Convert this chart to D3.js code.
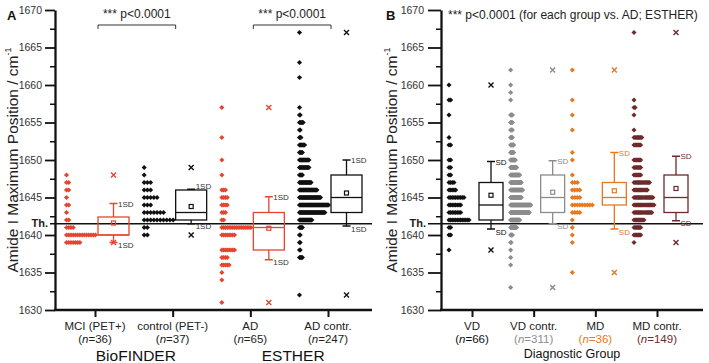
<!DOCTYPE html>
<html><head><meta charset="utf-8">
<script src="https://cdn.jsdelivr.net/npm/d3@7"></script>
<style>body{margin:0;background:#fff}svg{display:block}</style>
</head><body><svg id="c" width="709" height="363"></svg>
<script>
// ---------- data ----------
const catsA = ["MCI (PET+)", "control (PET-)", "AD", "AD contr."];
const nA = [36, 37, 65, 247];
const catsB = ["VD", "VD contr.", "MD", "MD contr."];
const nB = [66, 311, 36, 149];
const yTicks = [1630, 1635, 1640, 1645, 1650, 1655, 1660, 1665, 1670];
const yMinor = [1632.5, 1637.5, 1642.5, 1647.5, 1652.5, 1657.5, 1662.5, 1667.5];
const threshold = 1641.5;

// values (cm^-1) and number of subjects at each value
const mciVals  = [1648, 1647, 1646, 1645, 1644, 1643, 1642, 1641, 1640, 1639];
const mciCnts  = [1, 2, 2, 1, 2, 1, 2, 4, 14, 7];
const ctrlVals = [1649, 1648, 1647, 1646, 1645, 1644, 1643, 1642, 1641, 1640];
const ctrlCnts = [1, 1, 3, 3, 5, 3, 7, 10, 2, 2];
const adVals   = [1657, 1653, 1650, 1648, 1646, 1645, 1644, 1643, 1642, 1641, 1640, 1638, 1637, 1636, 1635, 1634, 1631];
const adCnts   = [1, 1, 1, 1, 3, 4, 4, 3, 2, 17, 8, 8, 4, 5, 1, 1, 1];
const adcVals  = [1667, 1663, 1661, 1657, 1656, 1655, 1654, 1653, 1652, 1651, 1650, 1649, 1648, 1647, 1646, 1645, 1644, 1643, 1642, 1641, 1640, 1639, 1638, 1637, 1632];
const adcCnts  = [1, 1, 1, 1, 2, 6, 2, 3, 8, 5, 14, 14, 5, 17, 25, 30, 41, 36, 18, 5, 2, 2, 2, 5, 1];

const vdVals   = [1660, 1658, 1656, 1653, 1652, 1650, 1649, 1648, 1647, 1646, 1645, 1644, 1643, 1642, 1641, 1640, 1638];
const vdCnts   = [1, 2, 1, 1, 2, 2, 2, 2, 4, 5, 10, 8, 8, 13, 2, 2, 1];
const vdcVals  = [1662, 1660, 1659, 1658, 1656, 1655, 1654, 1653, 1652, 1651, 1650, 1649, 1648, 1647, 1646, 1645, 1644, 1643, 1642, 1641, 1640, 1639, 1638, 1637, 1636, 1633];
const vdcCnts  = [1, 1, 1, 1, 5, 5, 5, 5, 8, 8, 12, 15, 22, 26, 29, 26, 48, 45, 22, 15, 5, 2, 1, 1, 1, 1];
const mdVals   = [1662, 1658, 1656, 1654, 1651, 1650, 1648, 1647, 1646, 1645, 1644, 1643, 1642, 1641, 1640, 1639, 1635];
const mdCnts   = [1, 1, 1, 1, 1, 1, 1, 3, 4, 4, 9, 4, 1, 1, 1, 1, 1];
const mdcVals  = [1667, 1658, 1657, 1656, 1654, 1653, 1652, 1650, 1649, 1648, 1647, 1646, 1645, 1644, 1643, 1642, 1641, 1640, 1639];
const mdcCnts  = [1, 1, 2, 1, 1, 8, 7, 7, 7, 7, 15, 13, 18, 19, 17, 10, 7, 7, 1];

// box statistics
const q1A   = [1640, 1642, 1638, 1643];
const medA  = [1640, 1643, 1641, 1645];
const q3A   = [1642.4, 1646, 1643, 1648];
const meanA = [1641.6, 1643.8, 1640.9, 1645.6];
const sdA   = [2.6, 2.3, 4.2, 4.4];
const q1B   = [1642, 1643, 1644, 1643];
const medB  = [1644, 1645, 1645, 1645];
const q3B   = [1647, 1648, 1647, 1648];
const meanB = [1645.3, 1645.7, 1645.9, 1646.2];
const sdB   = [4.5, 4.2, 5.1, 4.3];

const colorsA = ["#e5452d", "#111111", "#e5452d", "#111111"];
const colorsB = ["#111111", "#8c8c8c", "#e8771e", "#6e2a2c"];
const nColorsB = ["#111111", "#8c8c8c", "#e8771e", "#6e2a2c"];

// ---------- drawing ----------
const FONT = "Arial, 'Liberation Sans', Helvetica, sans-serif";
const svg = d3.select("#c").attr("font-family", FONT);
const y = d3.scaleLinear().domain([1630, 1670]).range([310, 10]);
const diamond = d3.symbol(d3.symbolSquare, 13)();
const timesPath = d3.symbol(d3.symbolTimes || d3.symbolCross, 18)();
const timesRot = d3.symbolTimes ? "" : " rotate(45)";

function drawPanel(o) {
  const g = svg.append("g");
  const x = d3.scalePoint().domain(o.cats).range(o.xRange);

  // dot strips
  o.vals.forEach((vals, i) => {
    const cnts = o.cnts[i];
    const left = x(o.cats[i]) + o.dotOff;
    const step = o.span / (d3.max(cnts) - 1);
    const pts = vals.flatMap((v, j) => d3.range(cnts[j]).map(k => [left + k * step, y(v)]));
    g.append("g").selectAll("path").data(pts).join("path")
      .attr("d", diamond)
      .attr("transform", d => `translate(${d[0]},${d[1]}) rotate(45)`)
      .attr("fill", o.colors[i]);
  });

  // threshold line
  g.append("line").attr("x1", o.thX0).attr("x2", o.xEnd)
    .attr("y1", y(threshold)).attr("y2", y(threshold))
    .attr("stroke", "#111").attr("stroke-width", 1.3);
  g.append("text").attr("x", o.thX0 - 2).attr("y", y(threshold) + 3.5)
    .attr("text-anchor", "end").attr("font-size", 11).attr("font-weight", "bold")
    .attr("fill", "#222").text("Th.");

  // boxes
  o.cats.forEach((c, i) => {
    const cx = x(c) + o.boxOff, hw = o.boxW / 2, col = o.colors[i];
    const hi = o.mean[i] + o.sd[i], lo = o.mean[i] - o.sd[i];
    const bg = g.append("g").attr("stroke", col).attr("fill", "none").attr("stroke-width", 1.3);
    bg.append("line").attr("x1", cx).attr("x2", cx).attr("y1", y(o.q3[i])).attr("y2", y(hi));
    bg.append("line").attr("x1", cx).attr("x2", cx).attr("y1", y(o.q1[i])).attr("y2", y(lo));
    bg.append("line").attr("x1", cx - 4).attr("x2", cx + 4).attr("y1", y(hi)).attr("y2", y(hi)).attr("stroke-width", 1.5);
    bg.append("line").attr("x1", cx - 4).attr("x2", cx + 4).attr("y1", y(lo)).attr("y2", y(lo)).attr("stroke-width", 1.5);
    bg.append("rect").attr("x", cx - hw).attr("width", o.boxW)
      .attr("y", y(o.q3[i])).attr("height", y(o.q1[i]) - y(o.q3[i]));
    bg.append("line").attr("x1", cx - hw).attr("x2", cx + hw).attr("y1", y(o.med[i])).attr("y2", y(o.med[i]));
    bg.append("rect").attr("x", cx - 2).attr("y", y(o.mean[i]) - 2).attr("width", 4).attr("height", 4).attr("stroke-width", 1.2);
    const mn = d3.min(o.vals[i]), mx = d3.max(o.vals[i]);
    [mn, mx].forEach(v => {
      g.append("path").attr("d", timesPath)
        .attr("transform", `translate(${cx},${y(v)})` + timesRot)
        .attr("stroke", col).attr("stroke-width", 1.4)
        .attr("fill", d3.symbolTimes ? "none" : col);
    });
    const lc = o.sdColor ? o.sdColor : col;
    g.append("text").attr("x", cx + 4.5).attr("y", Math.min(y(hi) + 3, y(o.q3[i]) - 1)).attr("font-size", 8)
      .attr("fill", lc).text(o.sdText);
    g.append("text").attr("x", cx + 4.5).attr("y", Math.max(y(lo) + 5.5, y(o.q1[i]) + 8)).attr("font-size", 8)
      .attr("fill", lc).text(o.sdText);
  });

  // y axis
  const ya = g.append("g").attr("transform", `translate(${o.axisX},0)`)
    .call(d3.axisLeft(y).tickValues(yTicks).tickSize(o.tick).tickPadding(o.pad)
      .tickSizeOuter(0).tickFormat(d3.format("d")));
  ya.attr("font-family", FONT).attr("font-size", 10.5);
  ya.select(".domain").attr("stroke", "#111").attr("stroke-width", 2.3);
  ya.selectAll(".tick line").attr("stroke", "#111").attr("stroke-width", 1.8);
  ya.selectAll(".tick text").attr("fill", "#333");
  const ym = g.append("g").attr("transform", `translate(${o.axisX},0)`)
    .call(d3.axisLeft(y).tickValues(yMinor).tickSize(5).tickFormat(""));
  ym.select(".domain").remove();
  ym.selectAll(".tick line").attr("stroke", "#111").attr("stroke-width", 1.5);

  // x axis
  const xa = g.append("g").attr("transform", "translate(0,310)")
    .call(d3.axisBottom(x).tickSize(7).tickFormat(""));
  xa.select(".domain").remove();
  xa.selectAll(".tick line").attr("stroke", "#111").attr("stroke-width", 2);
  g.append("line").attr("x1", o.axisX - 1).attr("x2", o.xEnd).attr("y1", 310).attr("y2", 310)
    .attr("stroke", "#111").attr("stroke-width", 2.3);

  // category labels
  o.cats.forEach((c, i) => {
    g.append("text").attr("x", x(c)).attr("y", 329.5).attr("text-anchor", "middle")
      .attr("font-size", 11.5).attr("fill", "#222").text(c);
    const t = g.append("text").attr("x", x(c)).attr("y", 342.5).attr("text-anchor", "middle")
      .attr("font-size", 11.5).attr("fill", o.nColors[i]);
    t.append("tspan").text("(");
    t.append("tspan").attr("font-style", "italic").text("n");
    t.append("tspan").text("=" + o.n[i] + ")");
  });

  // y title
  const yt = g.append("text").attr("transform", `translate(${o.titleX},160) rotate(-90)`)
    .attr("text-anchor", "middle").attr("font-size", 15.5).attr("fill", "#222");
  yt.append("tspan").text("Amide I Maximum Position / cm");
  yt.append("tspan").attr("font-size", 9).attr("dy", -7).text("-1");

  // panel letter
  g.append("text").attr("x", o.letterX).attr("y", 20).attr("font-size", 13)
    .attr("font-weight", "bold").attr("fill", "#111").text(o.letter);
  return x;
}

const xA = drawPanel({
  cats: catsA, n: nA, xRange: [95, 328], vals: [mciVals, ctrlVals, adVals, adcVals],
  cnts: [mciCnts, ctrlCnts, adCnts, adcCnts], colors: colorsA, nColors: ["#222", "#222", "#222", "#222"],
  q1: q1A, med: medA, q3: q3A, mean: meanA, sd: sdA,
  dotOff: -28.5, span: 29, boxOff: 18.5, boxW: 31, sdText: "1SD", sdColor: "#333",
  axisX: 55, xEnd: 372, thX0: 50, tick: 10, pad: 3, titleX: 18, letter: "A", letterX: 7
});
const xB = drawPanel({
  cats: catsB, n: nB, xRange: [472, 657], vals: [vdVals, vdcVals, mdVals, mdcVals],
  cnts: [vdCnts, vdcCnts, mdCnts, mdcCnts], colors: colorsB, nColors: nColorsB,
  q1: q1B, med: medB, q3: q3B, mean: meanB, sd: sdB,
  dotOff: -23, span: 20, boxOff: 19, boxW: 24, sdText: "SD", sdColor: null,
  axisX: 441, xEnd: 703, thX0: 428, tick: 13, pad: 4, titleX: 397, letter: "B", letterX: 386
});

// significance brackets (panel A)
[[0, 1], [2, 3]].forEach(([a, b]) => {
  const x0 = xA(catsA[a]) + 18.5 - 15.5, x1 = xA(catsA[b]) + 18.5 - 15.5;
  svg.append("path").attr("d", d3.line()([[x0, 29], [x0, 25], [x1, 25], [x1, 29]]))
    .attr("fill", "none").attr("stroke", "#333").attr("stroke-width", 1);
  svg.append("text").attr("x", (x0 + x1) / 2).attr("y", 18).attr("text-anchor", "middle")
    .attr("font-size", 12).attr("fill", "#222").text("*** p<0.0001");
});
svg.append("text").attr("x", 448).attr("y", 19).attr("font-size", 12).attr("fill", "#222")
  .text("*** p<0.0001 (for each group vs. AD; ESTHER)");

// group labels
svg.append("text").attr("x", (xA(catsA[0]) + xA(catsA[1])) / 2 + 2).attr("y", 361)
  .attr("text-anchor", "middle").attr("font-size", 15.5).attr("fill", "#111").text("BioFINDER");
svg.append("text").attr("x", (xA(catsA[2]) + xA(catsA[3])) / 2 + 4).attr("y", 361)
  .attr("text-anchor", "middle").attr("font-size", 15.5).attr("fill", "#111").text("ESTHER");
svg.append("text").attr("x", 572).attr("y", 358)
  .attr("text-anchor", "middle").attr("font-size", 12.5).attr("fill", "#111").text("Diagnostic Group");
</script>
</body></html>
